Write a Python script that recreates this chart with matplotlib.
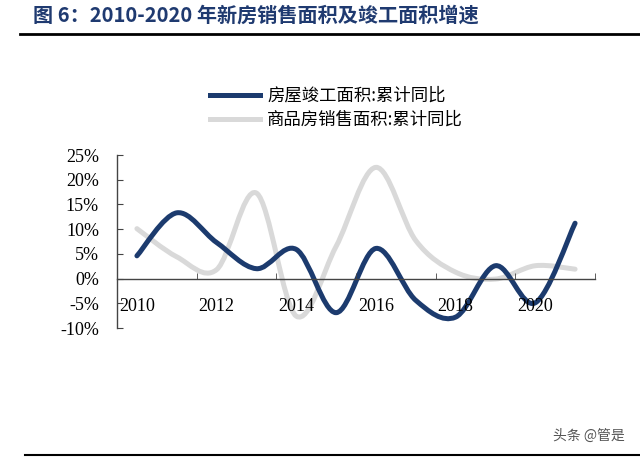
import matplotlib
matplotlib.use('Agg')

import matplotlib.pyplot as plt
from matplotlib.path import Path
from matplotlib.patches import PathPatch
from matplotlib.lines import Line2D
import numpy as np

plt.rcParams['font.family'] = ['Noto Sans CJK SC', 'DejaVu Sans']

# data
years = [2010, 2011, 2012, 2013, 2014, 2015, 2016, 2017, 2018, 2019, 2020, 2021]
completion = [4.6, 13.3, 7.3, 2.0, 5.9, -6.9, 6.1, -4.4, -7.8, 2.6, -4.9, 11.2]
sales = [10.1, 4.4, 1.8, 17.3, -7.6, 6.5, 22.5, 7.7, 1.3, -0.1, 2.6, 1.9]
year_labels = ['2010', '2012', '2014', '2016', '2018', '2020']
y_ticks = [-10, -5, 0, 5, 10, 15, 20, 25]

name_completion = '房屋竣工面积:累计同比'
name_sales = '商品房销售面积:累计同比'
title = '图 6：2010-2020 年新房销售面积及竣工面积增速'

BLUE = '#1c3b6e'
GREY = '#d9d9d9'


def smooth_path(x, y):
    # excel-like smoothed line: catmull-rom segments as cubic beziers
    pts = np.column_stack([x, y]).astype(float)
    ext = np.vstack([pts[0], pts, pts[-1]])
    verts = [pts[0]]
    codes = [Path.MOVETO]
    for i in range(1, len(ext) - 2):
        p0, p1, p2, p3 = ext[i - 1], ext[i], ext[i + 1], ext[i + 2]
        c1 = p1 + (p2 - p0) / 6.0
        c2 = p2 - (p3 - p1) / 6.0
        verts += [c1, c2, p2]
        codes += [Path.CURVE4] * 3
    return Path(verts, codes)


fig = plt.figure(figsize=(6.4, 4.57), dpi=100)
ax = fig.add_axes([117 / 640, 1 - 328 / 457, (595 - 117) / 640, (328 - 155) / 457])

for vals, col in [(sales, GREY), (completion, BLUE)]:
    patch = PathPatch(smooth_path(years, vals), facecolor='none', edgecolor=col,
                      lw=3.6, capstyle='round', joinstyle='round')
    ax.add_patch(patch)

ax.set_xlim(2009.5, 2021.5)
ax.set_ylim(-10, 25)

ax.spines['top'].set_visible(False)
ax.spines['right'].set_visible(False)
ax.spines['bottom'].set_position(('data', 0))
for s in ['left', 'bottom']:
    ax.spines[s].set_color('#444444')
    ax.spines[s].set_linewidth(1.0)

ax.set_yticks(y_ticks)
ax.set_yticklabels([f'{v}%' for v in y_ticks], family='Liberation Serif', fontsize=13)
ax.tick_params(axis='y', direction='in', length=4, color='#444444', pad=13)

ax.set_xticks([int(t) for t in year_labels])
ax.set_xticklabels(year_labels, family='Liberation Serif', fontsize=13)
ax.set_xticks(np.arange(2009.5, 2022, 2), minor=True)
ax.tick_params(axis='x', which='major', length=0, pad=14)
ax.tick_params(axis='x', which='minor', direction='in', length=4, color='#444444')

handles = [Line2D([], [], color=BLUE, lw=3.6),
           Line2D([], [], color=GREY, lw=3.6)]
fig.legend(handles, [name_completion, name_sales], loc='upper left',
           bbox_to_anchor=(210 / 640, 1 - 87 / 457), frameon=False,
           fontsize=12.5, handlelength=2.9, handletextpad=0.4,
           labelspacing=0.35, borderpad=0, borderaxespad=0)

fig.text(33 / 640, 1 - 15 / 457, title, fontsize=14.5, fontweight='bold',
         color='#1f3a70', va='center', ha='left')
fig.add_artist(Line2D([20 / 640, 1], [1 - 34 / 457, 1 - 34 / 457], color='black', lw=2))
fig.add_artist(Line2D([25 / 640, 1], [1 - 455 / 457, 1 - 455 / 457], color='black', lw=1.5))
fig.text(625 / 640, 1 - 436 / 457, '头条 @管是', fontsize=10, color='#555555',
         ha='right', va='center')

fig.savefig('out.png', dpi=100)
